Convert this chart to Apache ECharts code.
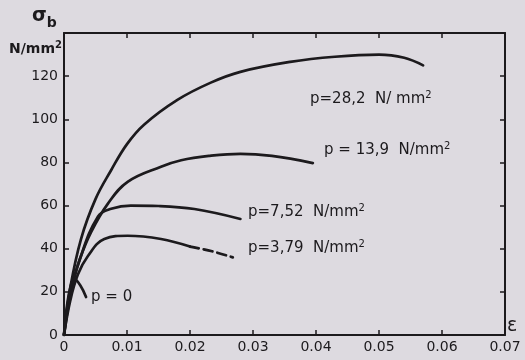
<!DOCTYPE html>
<html>
<head>
<meta charset="utf-8">
<script src="https://cdn.jsdelivr.net/npm/echarts@6/dist/echarts.min.js"></script>
<style>
  html, body { margin: 0; padding: 0; background: #dddae0; }
  #chart { width: 525px; height: 360px; }
</style>
</head>
<body>
<div id="chart"></div>
<script>
// Strain ε (x) and stress σb in N/mm² (y) for each confining pressure p
const eps282 = [0, 0.001, 0.0027, 0.005, 0.0075, 0.010, 0.0127, 0.018, 0.0233, 0.028, 0.0359, 0.043, 0.050, 0.054, 0.057];
const sig282 = [0, 22, 44.5, 63, 76.5, 88.5, 97.5, 109, 117, 122, 126.6, 129, 130, 128.5, 125];

const eps139 = [0, 0.001, 0.0025, 0.0043, 0.007, 0.0101, 0.0154, 0.0186, 0.023, 0.028, 0.033, 0.0395];
const sig139 = [0, 20, 35, 47.7, 61, 71, 78, 81, 83, 84, 83, 79.7];

const eps752 = [0, 0.001, 0.0025, 0.0054, 0.0075, 0.0106, 0.015, 0.0207, 0.028];
const sig752 = [0, 18, 35, 55, 58.5, 60, 59.8, 58.4, 53.8];

const eps379 = [0, 0.001, 0.0022, 0.0038, 0.0064, 0.0101, 0.0154, 0.020];
const sig379 = [0, 16, 28, 36.6, 44.5, 46, 44.5, 41];
// broken (dashed) continuation of the p = 3,79 curve
const eps379d = [0.020, 0.0235, 0.0268];
const sig379d = [41, 38.8, 36];

const eps0 = [0, 0.0004, 0.001, 0.0016, 0.0026, 0.0035];
const sig0 = [0, 12, 22, 26, 23, 17.6];

const xTicks = [0, 0.01, 0.02, 0.03, 0.04, 0.05, 0.06, 0.07];
const yTicks = [0, 20, 40, 60, 80, 100, 120];

const pairs = (xs, ys) => xs.map((x, i) => [x, ys[i]]);

const ink = '#1c1a1d';
const font = '"DejaVu Sans", "Liberation Sans", sans-serif';

const curve = (data, dashed) => ({
  type: 'line',
  data: data,
  smooth: 0.4,
  showSymbol: false,
  xAxisIndex: 0,
  yAxisIndex: 0,
  lineStyle: { color: ink, width: 2.7, type: dashed ? [9, 5] : 'solid', cap: 'round' }
});

const frameAxis = {
  axisLine: { show: true, onZero: false, lineStyle: { color: ink, width: 2 } },
  axisTick: { show: true, inside: true, length: 5, lineStyle: { color: ink, width: 1.5 } },
  splitLine: { show: false }
};

const pLabel = (text, x, y) => ({
  type: 'text', x: x, y: y,
  style: {
    text: text, fill: ink, fontSize: 15, fontFamily: font, verticalAlign: 'middle',
    rich: { u: { fontSize: 10, fontFamily: font, padding: [0, 0, 8, 0] } }
  }
});

const chart = echarts.init(document.getElementById('chart'));
chart.setOption({
  backgroundColor: '#dddae0',
  animation: false,
  grid: { left: 64, right: 20, top: 33, bottom: 25 },
  xAxis: [
    Object.assign({
      type: 'value', position: 'bottom', min: 0, max: 0.07, interval: 0.01,
      axisLabel: {
        color: ink, fontFamily: font, fontSize: 14, margin: 5,
        formatter: v => v === 0 ? '0' : v.toFixed(2)
      }
    }, frameAxis),
    Object.assign({
      type: 'value', position: 'top', min: 0, max: 0.07, interval: 0.01,
      axisLabel: { show: false }
    }, frameAxis)
  ],
  yAxis: [
    Object.assign({
      type: 'value', position: 'left', min: 0, max: 140, interval: 20,
      axisLabel: {
        color: ink, fontFamily: font, fontSize: 14, margin: 6,
        formatter: v => yTicks.indexOf(v) >= 0 ? String(v) : ''
      }
    }, frameAxis),
    Object.assign({
      type: 'value', position: 'right', min: 0, max: 140, interval: 20,
      axisLabel: { show: false }
    }, frameAxis)
  ],
  series: [
    curve(pairs(eps282, sig282)),
    curve(pairs(eps139, sig139)),
    curve(pairs(eps752, sig752)),
    curve(pairs(eps379, sig379)),
    curve(pairs(eps379d, sig379d), true),
    curve(pairs(eps0, sig0))
  ],
  graphic: [
    { type: 'text', left: 32, top: 7, style: {
      text: '{s|σ}{b|b}', fill: ink,
      rich: { s: { fontSize: 19, fontFamily: font, fontWeight: 'bold' },
              b: { fontSize: 14, fontFamily: font, fontWeight: 'bold', padding: [13, 0, 0, 0] } } } },
    { type: 'text', left: 9, top: 40, style: {
      text: 'N/mm{u|2}', fill: ink, fontSize: 14, fontFamily: font, fontWeight: 'bold',
      rich: { u: { fontSize: 10, fontFamily: font, fontWeight: 'bold', padding: [0, 0, 9, 0] } } } },
    { type: 'text', left: 507, top: 317, style: { text: 'ε', fill: ink, fontSize: 19, fontFamily: font } },
    pLabel('p=28,2  N/ mm{u|2}', 310, 99),
    pLabel('p = 13,9  N/mm{u|2}', 324, 150),
    pLabel('p=7,52  N/mm{u|2}', 248, 212),
    pLabel('p=3,79  N/mm{u|2}', 248, 248),
    pLabel('p = 0', 91, 297)
  ]
});
</script>
</body>
</html>
